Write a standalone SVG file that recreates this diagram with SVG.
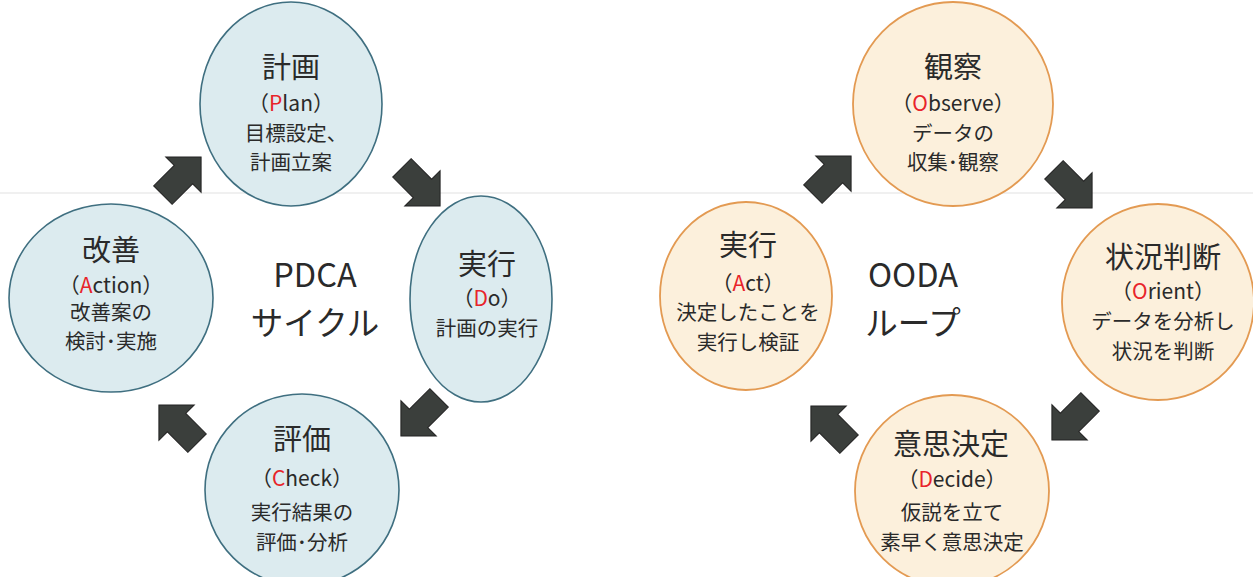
<svg xmlns="http://www.w3.org/2000/svg" width="1253" height="577" viewBox="0 0 1253 577">
<defs>
<style>
.pd{fill:#dcebef;stroke:#3f6f80;stroke-width:1.6}
.oo{fill:#fcf0dc;stroke:#e39a52;stroke-width:1.8}
text{font-family:"Noto Sans CJK JP","Noto Sans",sans-serif;fill:#2a2a2a;text-anchor:middle}
.t{font-size:29px}
.e{font-size:21px}
.b{font-size:20.5px}
.c{font-size:32.5px}
.r{fill:#e8242a}
.arr{fill:#3b3f3c;stroke:#222;stroke-width:1}
</style>
<path id="ar" d="M -27,-13 L 2,-13 L 2,-25 L 27,0 L 2,25 L 2,13 L -27,13 Z"/>
</defs>
<rect width="1253" height="577" fill="#ffffff"/>
<line x1="0" y1="193" x2="1253" y2="193" stroke="#f0f0f0" stroke-width="2"/>

<g id="pdca-plan">
<ellipse class="pd" cx="291" cy="104" rx="91" ry="102"/>
<text class="t" x="291" y="78">計画</text>
<text class="e" x="291" y="111">（<tspan class="r">P</tspan>lan）</text>
<text class="b" x="296" y="141">目標設定、</text>
<text class="b" x="291" y="170">計画立案</text>
</g>
<g id="pdca-do">
<ellipse class="pd" cx="481" cy="299" rx="71" ry="103"/>
<text class="t" x="487" y="275">実行</text>
<text class="e" x="487" y="306">（<tspan class="r">D</tspan>o）</text>
<text class="b" x="487" y="336">計画の実行</text>
</g>
<g id="pdca-check">
<ellipse class="pd" cx="302" cy="490" rx="97" ry="96"/>
<text class="t" x="302" y="450">評価</text>
<text class="e" x="302" y="486">（<tspan class="r">C</tspan>heck）</text>
<text class="b" x="302" y="520">実行結果の</text>
<text class="b" x="302" y="550">評価･分析</text>
</g>
<g id="pdca-action">
<ellipse class="pd" cx="111" cy="298" rx="102" ry="94"/>
<text class="t" x="111" y="261">改善</text>
<text class="e" x="111" y="293">（<tspan class="r">A</tspan>ction）</text>
<text class="b" x="111" y="320">改善案の</text>
<text class="b" x="111" y="349">検討･実施</text>
</g>
<g id="pdca-label">
<text class="c" x="315" y="287">PDCA</text>
<text class="c" x="315" y="335">サイクル</text>
</g>

<g id="ooda-observe">
<ellipse class="oo" cx="953" cy="104" rx="100" ry="102"/>
<text class="t" x="953" y="78">観察</text>
<text class="e" x="953" y="111">（<tspan class="r">O</tspan>bserve）</text>
<text class="b" x="953" y="141">データの</text>
<text class="b" x="953" y="170">収集･観察</text>
</g>
<g id="ooda-orient">
<ellipse class="oo" cx="1158" cy="302" rx="96" ry="98"/>
<text class="t" x="1163" y="268">状況判断</text>
<text class="e" x="1163" y="299">（<tspan class="r">O</tspan>rient）</text>
<text class="b" x="1163" y="329">データを分析し</text>
<text class="b" x="1163" y="359">状況を判断</text>
</g>
<g id="ooda-decide">
<ellipse class="oo" cx="952" cy="491" rx="97" ry="96"/>
<text class="t" x="951" y="455">意思決定</text>
<text class="e" x="952" y="487">（<tspan class="r">D</tspan>ecide）</text>
<text class="b" x="952" y="520">仮説を立て</text>
<text class="b" x="952" y="550">素早く意思決定</text>
</g>
<g id="ooda-act">
<ellipse class="oo" cx="746" cy="296" rx="86" ry="94"/>
<text class="t" x="748" y="256">実行</text>
<text class="e" x="748" y="291">（<tspan class="r">A</tspan>ct）</text>
<text class="b" x="748" y="320">決定したことを</text>
<text class="b" x="748" y="350">実行し検証</text>
</g>
<g id="ooda-label">
<text class="c" x="913" y="287">OODA</text>
<text class="c" x="913" y="335">ループ</text>
</g>

<g id="connectors">
<use href="#ar" class="arr" transform="translate(182,176) rotate(-45)"/>
<use href="#ar" class="arr" transform="translate(421,187) rotate(45)"/>
<use href="#ar" class="arr" transform="translate(420,417) rotate(135)"/>
<use href="#ar" class="arr" transform="translate(178,424) rotate(225)"/>
<use href="#ar" class="arr" transform="translate(832,175) rotate(-45)"/>
<use href="#ar" class="arr" transform="translate(1073,189) rotate(45)"/>
<use href="#ar" class="arr" transform="translate(1071,421) rotate(135)"/>
<use href="#ar" class="arr" transform="translate(830,425) rotate(225)"/>
</g>
</svg>
